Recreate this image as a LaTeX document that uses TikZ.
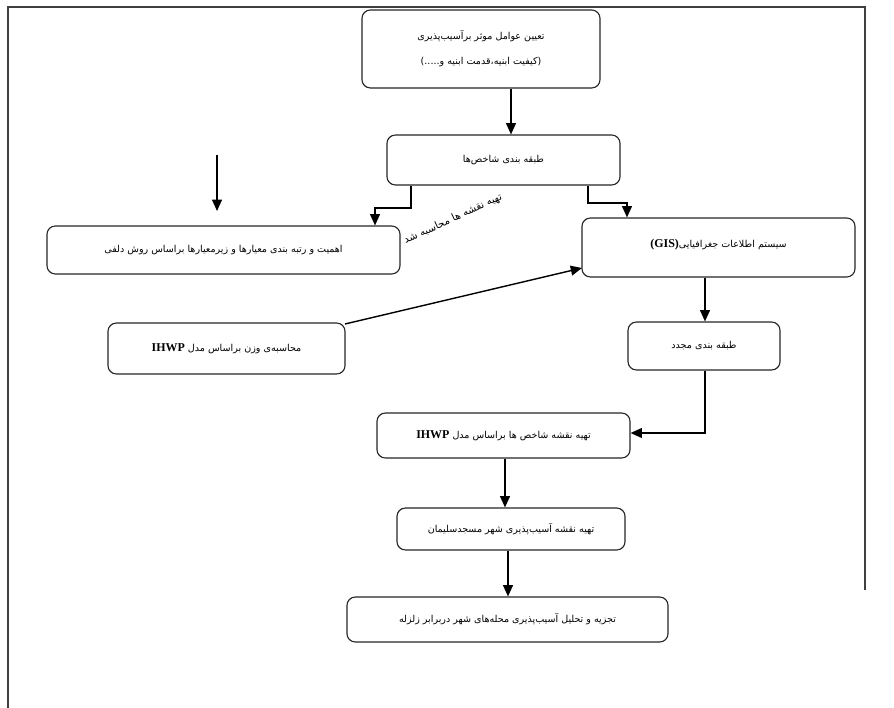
\documentclass[tikz,border=0pt]{standalone}
\usepackage{fontspec}
\setmainfont{Liberation Serif}
\newfontfamily\fa[Script=Arabic]{DejaVu Sans}
\newfontfamily\lat{Liberation Serif}
\TeXXeTstate=1
\usetikzlibrary{arrows.meta}
\tikzset{
  box/.style={draw=black!85, line width=0.8pt, rounded corners=6pt, fill=white, inner sep=0pt, align=center, font=\fa\fontsize{6.8}{18}\selectfont},
  arr/.style={line width=1pt, -{Triangle[width=7pt,length=8pt]}},
  ln/.style={line width=1pt},
  frame/.style={line width=1.1pt, draw=black!75}
}
\newcommand{\IH}{\beginL{\lat\bfseries\fontsize{8.5}{10}\selectfont IHWP}\endL}
\begin{document}
\begin{tikzpicture}[x=0.025cm,y=-0.025cm]
\useasboundingbox (0,0) rectangle (894,708);
% frame
\draw[frame] (8,708) -- (8,7) -- (865,7) -- (865,590);
% boxes
\node[box, minimum width=5.95cm, minimum height=1.95cm] (b1) at (481,49)
  {\beginR تعیین عوامل موثر برآسیب‌پذیری\endR\\ \beginR (کیفیت ابنیه،قدمت ابنیه و.....)\endR};
\node[box, minimum width=5.825cm, minimum height=1.25cm] (b2) at (503.5,160)
  {\beginR طبقه بندی شاخص‌ها\endR};
\node[box, minimum width=8.825cm, minimum height=1.2cm] (b3) at (223.5,250)
  {\beginR اهمیت و رتبه بندی معیارها و زیرمعیارها براساس روش دلفی\endR};
\node[box, minimum width=6.825cm, minimum height=1.475cm, text depth=6pt] (gis) at (718.5,247.5)
  {\beginR سیستم اطلاعات جغرافیایی\beginL{\lat\bfseries\fontsize{8.5}{10}\selectfont (GIS)}\endL\endR};
\node[box, minimum width=5.925cm, minimum height=1.275cm] (calc) at (226.5,348.5)
  {\beginR محاسبه‌ی وزن براساس مدل \IH\endR};
\node[box, minimum width=3.8cm, minimum height=1.2cm] (again) at (704,346)
  {\beginR طبقه بندی مجدد\endR};
\node[box, minimum width=6.325cm, minimum height=1.125cm] (mapi) at (503.5,435.5)
  {\beginR تهیه نقشه شاخص ها براساس مدل \IH\endR};
\node[box, minimum width=5.7cm, minimum height=1.05cm] (mapv) at (511,529)
  {\beginR تهیه نقشه آسیب‌پذیری شهر مسجدسلیمان\endR};
\node[box, minimum width=8.025cm, minimum height=1.125cm] (final) at (507.5,619.5)
  {\beginR تجزیه و تحلیل آسیب‌پذیری محله‌های شهر دربرابر زلزله\endR};
% rotated label
\node[rotate=25, font=\fa\fontsize{7.3}{9}\selectfont, inner sep=0pt] (note) at (453,219)
  {\beginR تهیه نقشه ها محاسبه شد\endR};
% helper coordinates
\coordinate (c511) at (511,0);
\coordinate (c411) at (411,0);
\coordinate (c375) at (375,0);
\coordinate (c588) at (588,0);
\coordinate (c627) at (627,0);
\coordinate (c705) at (705,0);
\coordinate (c505) at (505,0);
\coordinate (c508) at (508,0);
\coordinate (y208) at (0,208);
\coordinate (y203) at (0,203);
\coordinate (y433) at (0,433);
\coordinate (s1) at (217,155);
\coordinate (s2) at (217,211);
\coordinate (g1) at (582,268);
\coordinate (k1) at (345,324);
% connectors
\draw[arr] (b1.south -| c511) -- (b2.north -| c511);
\draw[arr] (b2.south -| c411) -- (c411 |- y208) -- (c375 |- y208) -- (b3.north -| c375);
\draw[arr] (b2.south -| c588) -- (c588 |- y203) -- (c627 |- y203) -- (gis.north -| c627);
\draw[arr] (s1) -- (s2);
\draw[arr] (k1) -- (g1);
\draw[arr] (gis.south -| c705) -- (again.north -| c705);
\draw[arr] (again.south -| c705) -- (c705 |- y433) -- (mapi.east |- y433);
\draw[arr] (mapi.south -| c505) -- (mapv.north -| c505);
\draw[arr] (mapv.south -| c508) -- (final.north -| c508);
\end{tikzpicture}
\end{document}
